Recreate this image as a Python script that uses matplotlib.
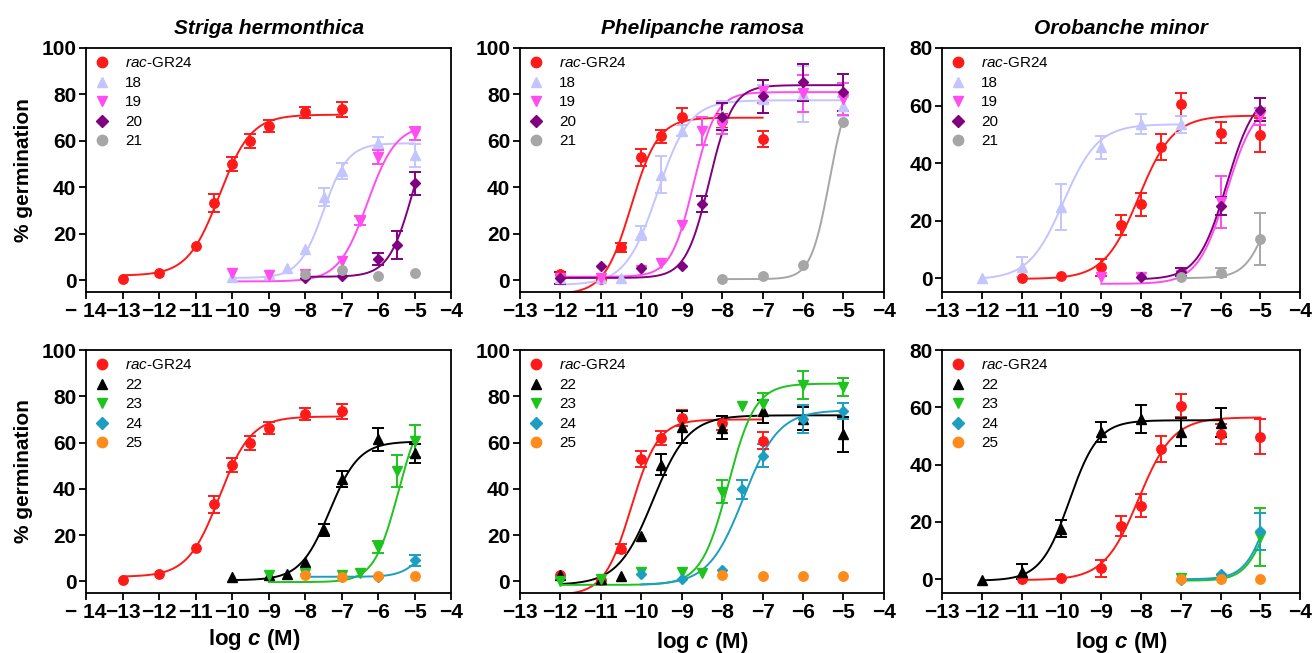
import numpy as np
import matplotlib
matplotlib.use("Agg")
import matplotlib.pyplot as plt

plt.rcParams["font.family"] = ["Liberation Sans", "DejaVu Sans"]
plt.rcParams["mathtext.fontset"] = "custom"
plt.rcParams["mathtext.rm"] = "Liberation Sans"
plt.rcParams["mathtext.it"] = "Liberation Sans:italic"
plt.rcParams["mathtext.bf"] = "Liberation Sans:italic:bold"

# ──────────────────────────────────────────
# DADOS
# fit = (bottom, top, logEC50, hill, xmin, xmax)
# ──────────────────────────────────────────

# --- Striga hermonthica ---
x_rac_sh = [-13, -12, -11, -10.5, -10, -9.5, -9, -8, -7]
y_rac_sh = [0.5, 3.3, 14.6, 33.3, 50.2, 59.9, 66.4, 72.3, 73.6]
e_rac_sh = [0, 0, 0, 3.8, 3, 3, 2.5, 2.5, 3.2]
fit_rac_sh = (2, 71.3, -10.35, 1.0, -13, -7)

x18_sh = [-10, -9, -8.5, -8, -7.5, -7, -6, -5]
y18_sh = [1.5, 2.9, 5.5, 13.4, 35.8, 47.0, 59.2, 53.8]
e18_sh = [0, 0, 0, 0, 4, 3.5, 2.5, 5]
fit18_sh = (1, 59, -7.5, 1.3, -10, -5)

x19_sh = [-10, -9, -8, -7, -6.5, -6, -5]
y19_sh = [3.3, 2.2, 2.9, 8.4, 25.7, 53.1, 63.2]
e19_sh = [0, 0, 0, 0, 2, 3, 3]
fit19_sh = (-0.5, 67, -6.3, 1.1, -10, -5)

x20_sh = [-8, -7, -6, -5.5, -5]
y20_sh = [0.9, 1.7, 9.1, 15.3, 41.8]
e20_sh = [0, 0, 2.5, 6, 5]
fit20_sh = (1.5, 75, -5.05, 1.3, -8, -5)

x21_sh = [-8, -7, -6, -5]
y21_sh = [2.6, 4.3, 1.9, 3.0]

x22_sh = [-10, -9, -8.5, -8, -7.5, -7, -6, -5]
y22_sh = [1.9, 2.6, 3.3, 8.3, 22.3, 44.3, 61.5, 55.3]
e22_sh = [0, 0, 0, 0, 2.5, 3.5, 5, 4]
fit22_sh = (0.5, 60.5, -7.33, 1.08, -10, -5)

x23_sh = [-9, -8, -7, -6.5, -6, -5.5, -5]
y23_sh = [2.6, 3.7, 2.6, 3.7, 14.8, 47.8, 60.8]
e23_sh = [0, 0, 0, 0, 2.5, 7, 7]
fit23_sh = (-0.3, 78, -5.45, 1.3, -9, -5)

x24_sh = [-8, -7, -6, -5]
y24_sh = [3.3, 1.9, 1.9, 9.1]
e24_sh = [0, 0, 0, 2.5]
fit24_sh = (2, 20, -4.8, 1.5, -8, -5)

x25_sh = [-8, -7, -6, -5]
y25_sh = [2.9, 1.9, 2.2, 2.3]

# --- Phelipanche ramosa ---
x_rac_pr = [-12, -11, -10.5, -10, -9.5, -9, -8, -7]
y_rac_pr = [2.6, 0.7, 14.2, 52.9, 61.9, 70.5, 68.5, 60.9]
e_rac_pr = [0, 0, 2, 3.5, 3, 3.5, 3, 3.5]
fit_rac_pr = (-6, 70, -10.25, 1.3, -12, -7)

x18_pr = [-12, -11, -10.5, -10, -9.5, -9, -8, -7, -6, -5]
y18_pr = [1.1, 0.9, 0.9, 20.5, 45.4, 64.4, 71.3, 78.2, 80.2, 74.9]
e18_pr = [0, 0, 0, 3, 8, 2.5, 6, 6, 12, 4]
fit18_pr = (-2, 77.5, -9.6, 1.1, -12, -5)

x19_pr = [-12, -11, -10, -9.5, -9, -8.5, -8, -7, -6, -5]
y19_pr = [1.0, 1.0, 4.5, 7.6, 23.9, 64.4, 67, 81.3, 80.5, 78]
e19_pr = [0, 0, 0, 0, 0, 6, 4, 5, 8, 7]
fit19_pr = (1.5, 81, -8.71, 1.55, -12, -5)

x20_pr = [-12, -11, -10, -9, -8.5, -8, -7, -6, -5]
y20_pr = [0.9, 6.2, 5.2, 6.2, 32.8, 70.5, 79.2, 85.3, 81]
e20_pr = [2.5, 0, 0, 0, 3.5, 6, 7, 8, 8]
fit20_pr = (1, 84, -8.32, 1.5, -12, -5)

x21_pr = [-8, -7, -6, -5]
y21_pr = [0.4, 1.9, 6.6, 68.1]
fit21_pr = (0.5, 85, -5.35, 1.9, -8, -5)

x22_pr = [-12, -11, -10.5, -10, -9.5, -9, -8, -7, -6, -5]
y22_pr = [2.6, 1.2, 2.2, 19.5, 50.5, 66.8, 66.5, 73.6, 70.4, 63.6]
e22_pr = [0, 0, 0, 0, 4.5, 7, 5, 5, 5, 7.5]
fit22_pr = (-1.5, 71.8, -9.71, 1.0, -12, -5)

x23_pr = [-12, -11, -10, -9, -8.5, -8, -7.5, -7, -6, -5]
y23_pr = [0, 1.2, 4.0, 4.0, 3.6, 38.7, 75.8, 76.6, 84.8, 84.1]
e23_pr = [0, 0, 0, 0, 0, 5, 0, 5, 6, 4]
fit23_pr = (-1.5, 85.5, -7.85, 1.3, -12, -5)

x24_pr = [-10, -9, -8, -7.5, -7, -6, -5]
y24_pr = [3.0, 0.9, 5.1, 39.8, 54.4, 70.3, 73.7]
e24_pr = [0, 0, 0, 4, 5, 6, 3.5]
fit24_pr = (-1.5, 74, -7.47, 1.0, -10, -5)

x25_pr = [-8, -7, -6, -5]
y25_pr = [2.9, 2.3, 2.5, 2.5]

# --- Orobanche minor ---
x_rac_om = [-11, -10, -9, -8.5, -8, -7.5, -7, -6, -5]
y_rac_om = [0, 0.6, 3.8, 18.6, 25.7, 45.6, 60.5, 50.6, 49.8]
e_rac_om = [0, 0, 3, 3.5, 4, 4.5, 4, 3.5, 6]
fit_rac_om = (-0.3, 56.5, -8.06, 1.0, -11, -5)

x18_om = [-12, -11, -10, -9, -8, -7]
y18_om = [0.2, 3.8, 24.8, 45.5, 53.5, 53.5]
e18_om = [0, 3.5, 8, 4, 3.5, 3]
fit18_om = (-0.5, 53.5, -9.95, 1.0, -12, -7)

x19_om = [-9, -8, -7, -6, -5]
y19_om = [0.3, 0.3, 0.9, 26.5, 56.2]
e19_om = [0, 0, 0, 9, 3]
fit19_om = (-2, 62, -5.85, 1.2, -9, -5)

x20_om = [-8, -7, -6, -5]
y20_om = [0.3, 2.1, 25.1, 58.5]
e20_om = [0, 1.5, 3, 4]
fit20_om = (-0.5, 65.5, -5.85, 1.2, -8, -5)

x21_om = [-7, -6, -5]
y21_om = [0.3, 1.9, 13.7]
e21_om = [0, 1.5, 9]
fit21_om = (0, 40, -4.8, 1.5, -7, -5)

x22_om = [-12, -11, -10, -9, -8, -7, -6]
y22_om = [-0.2, 2.7, 17.6, 51.4, 55.9, 51.4, 54.7]
e22_om = [0, 2.5, 3, 3.5, 5, 5, 5]
fit22_om = (-0.5, 55.5, -9.8, 1.2, -12, -6)

x23_om = [-7, -6, -5]
y23_om = [0.5, 0.1, 14.7]
e23_om = [0, 0, 10]
fit23_om = (-0.5, 40, -4.8, 1.5, -7, -5)

x24_om = [-7, -6, -5]
y24_om = [-0.2, 1.9, 16.7]
e24_om = [0, 0, 6.5]
fit24_om = (0, 45, -4.8, 1.5, -7, -5)

x25_om = [-7, -6, -5]
y25_om = [0, 0, 0]

titulos = ["Striga hermonthica", "Phelipanche ramosa", "Orobanche minor"]
rotulo_rac = r"$\mathit{rac}$-GR24"

# ──────────────────────────────────────────
# ESTILOS
# ──────────────────────────────────────────
cor = {"rac": "#ff1a1a", "18": "#c4c4ff", "19": "#ff4df0", "20": "#800080",
       "21": "#a6a6a6", "22": "#000000", "23": "#1ec31e", "24": "#1c9ec0",
       "25": "#ff8c1a"}
marcador = {"rac": "o", "18": "^", "19": "v", "20": "D", "21": "o",
            "22": "^", "23": "v", "24": "D", "25": "o"}
tam = {"o": 6.8, "^": 6.8, "v": 6.8, "D": 5.4}


def curva(ax, fit, c):
    b, t, ec, h, x0, x1 = fit
    xs = np.linspace(x0, x1, 300)
    ax.plot(xs, b + (t - b) / (1 + 10 ** ((ec - xs) * h)), color=c, lw=1.4, zorder=2)


def serie(ax, chave, label, x, y, e=None, fit=None):
    c = cor[chave]
    m = marcador[chave]
    if fit is not None:
        curva(ax, fit, c)
    if e is not None:
        xe = [xi for xi, ei in zip(x, e) if ei > 0]
        ye = [yi for yi, ei in zip(y, e) if ei > 0]
        ee = [ei for ei in e if ei > 0]
        ax.errorbar(xe, ye, yerr=ee, fmt="none", ecolor=c, elinewidth=1.4,
                    capsize=4.5, capthick=1.4, zorder=3)
    ax.plot(x, y, ls="none", marker=m, ms=tam[m], color=c, mec=c, label=label, zorder=4)


fig = plt.figure(figsize=(13.14, 6.53), dpi=100)

lefts = [0.0655, 0.3957, 0.717]
widths = [0.278, 0.277, 0.2725]
axes = [[fig.add_axes([lefts[j], 0.553, widths[j], 0.3735]) for j in range(3)],
        [fig.add_axes([lefts[j], 0.0919, widths[j], 0.372]) for j in range(3)]]

# --- linha de cima: 18-21 ---
ax = axes[0][0]
serie(ax, "rac", rotulo_rac, x_rac_sh, y_rac_sh, e_rac_sh, fit_rac_sh)
serie(ax, "18", "18", x18_sh, y18_sh, e18_sh, fit18_sh)
serie(ax, "19", "19", x19_sh, y19_sh, e19_sh, fit19_sh)
serie(ax, "20", "20", x20_sh, y20_sh, e20_sh, fit20_sh)
serie(ax, "21", "21", x21_sh, y21_sh)

ax = axes[0][1]
serie(ax, "rac", rotulo_rac, x_rac_pr, y_rac_pr, e_rac_pr, fit_rac_pr)
serie(ax, "18", "18", x18_pr, y18_pr, e18_pr, fit18_pr)
serie(ax, "19", "19", x19_pr, y19_pr, e19_pr, fit19_pr)
serie(ax, "20", "20", x20_pr, y20_pr, e20_pr, fit20_pr)
serie(ax, "21", "21", x21_pr, y21_pr, None, fit21_pr)

ax = axes[0][2]
serie(ax, "rac", rotulo_rac, x_rac_om, y_rac_om, e_rac_om, fit_rac_om)
serie(ax, "18", "18", x18_om, y18_om, e18_om, fit18_om)
serie(ax, "19", "19", x19_om, y19_om, e19_om, fit19_om)
serie(ax, "20", "20", x20_om, y20_om, e20_om, fit20_om)
serie(ax, "21", "21", x21_om, y21_om, e21_om, fit21_om)

# --- linha de baixo: 22-25 ---
ax = axes[1][0]
serie(ax, "rac", rotulo_rac, x_rac_sh, y_rac_sh, e_rac_sh, fit_rac_sh)
serie(ax, "22", "22", x22_sh, y22_sh, e22_sh, fit22_sh)
serie(ax, "23", "23", x23_sh, y23_sh, e23_sh, fit23_sh)
serie(ax, "24", "24", x24_sh, y24_sh, e24_sh, fit24_sh)
serie(ax, "25", "25", x25_sh, y25_sh)

ax = axes[1][1]
serie(ax, "rac", rotulo_rac, x_rac_pr, y_rac_pr, e_rac_pr, fit_rac_pr)
serie(ax, "22", "22", x22_pr, y22_pr, e22_pr, fit22_pr)
serie(ax, "23", "23", x23_pr, y23_pr, e23_pr, fit23_pr)
serie(ax, "24", "24", x24_pr, y24_pr, e24_pr, fit24_pr)
serie(ax, "25", "25", x25_pr, y25_pr)

ax = axes[1][2]
serie(ax, "rac", rotulo_rac, x_rac_om, y_rac_om, e_rac_om, fit_rac_om)
serie(ax, "22", "22", x22_om, y22_om, e22_om, fit22_om)
serie(ax, "23", "23", x23_om, y23_om, e23_om, fit23_om)
serie(ax, "24", "24", x24_om, y24_om, e24_om, fit24_om)
serie(ax, "25", "25", x25_om, y25_om)

# ──────────────────────────────────────────
# EIXOS
# ──────────────────────────────────────────
for i in range(2):
    for j in range(3):
        ax = axes[i][j]
        xmin = -14 if j == 0 else -13
        ymax = 80 if j == 2 else 100
        ax.set_xlim(xmin, -4)
        ax.set_ylim(-5 if j != 2 else -4.8, ymax)
        xt = list(range(xmin, -3))
        ax.set_xticks(xt)
        ax.set_xticklabels([("− 14" if v == -14 else f"−{abs(v)}") for v in xt])
        ax.set_yticks(range(0, ymax + 1, 20))
        ax.tick_params(direction="out", length=5, width=1.3, labelsize=15, pad=2)
        for lab in ax.get_xticklabels() + ax.get_yticklabels():
            lab.set_fontweight("bold")
        for s in ax.spines.values():
            s.set_linewidth(1.3)
        ax.legend(loc="upper left", frameon=False, fontsize=11, handlelength=1.0,
                  handletextpad=1.0, labelspacing=0.36, borderaxespad=0.25,
                  borderpad=0.3, numpoints=1, markerscale=1.1)
        if i == 0:
            ax.set_title(titulos[j], fontsize=15, fontweight="bold", style="italic", pad=10)
        else:
            ax.set_xlabel(r"log $\mathbf{c}$ (M)", fontsize=16, fontweight="bold", labelpad=6)
        if j == 0:
            ax.set_ylabel("% germination", fontsize=15, fontweight="bold", labelpad=6)

axes[1][0].xaxis.set_label_coords(0.46, -0.14)

plt.savefig("out.png", dpi=100)
